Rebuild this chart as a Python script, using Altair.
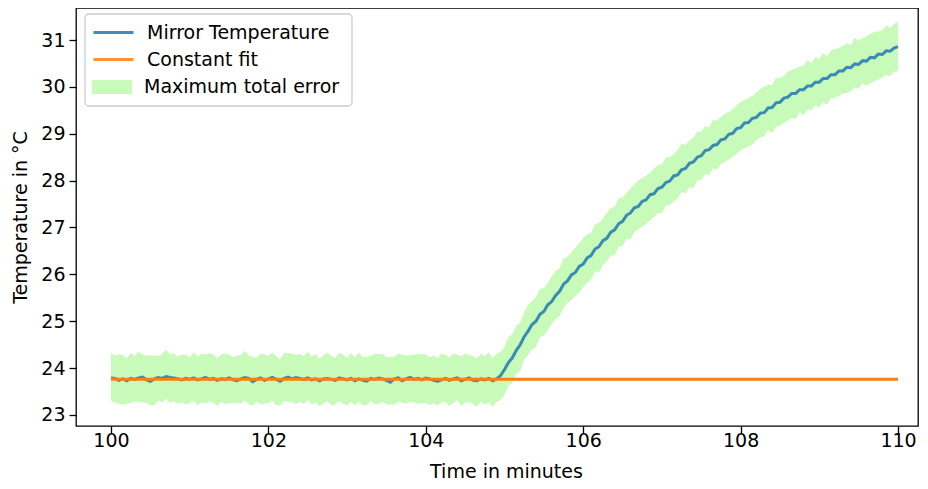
import altair as alt
import pandas as pd

# sample times (minutes), 0.05 min spacing
time = [round(100 + 0.05 * i, 2) for i in range(201)]

# mirror temperature, flat part 100.00 .. 104.90
temp_flat = [23.79, 23.78, 23.74, 23.77, 23.73, 23.78, 23.76, 23.79, 23.81, 23.75,
             23.72, 23.77, 23.80, 23.78, 23.82, 23.80, 23.79, 23.77, 23.75, 23.78,
             23.76, 23.79, 23.75, 23.77, 23.80, 23.76, 23.78, 23.74, 23.77, 23.76,
             23.79, 23.75, 23.73, 23.77, 23.80, 23.78, 23.71, 23.76, 23.79, 23.74,
             23.77, 23.80, 23.76, 23.72, 23.78, 23.81, 23.77, 23.80, 23.78, 23.76,
             23.79, 23.75, 23.77, 23.73, 23.77, 23.78, 23.76, 23.74, 23.79, 23.77,
             23.75, 23.78, 23.73, 23.77, 23.74, 23.72, 23.78, 23.76, 23.79, 23.77,
             23.74, 23.70, 23.77, 23.79, 23.73, 23.77, 23.80, 23.76, 23.78, 23.75,
             23.79, 23.77, 23.74, 23.72, 23.75, 23.78, 23.74, 23.77, 23.79, 23.73,
             23.76, 23.79, 23.74, 23.73, 23.77, 23.75, 23.78, 23.73, 23.77]

# mirror temperature, heating part 104.95 .. 110.00
temp_rise = [23.84, 23.97, 24.12, 24.22, 24.38, 24.50, 24.67, 24.79, 24.93, 25.00,
             25.15, 25.21, 25.35, 25.42, 25.55, 25.64, 25.79, 25.86, 25.99, 26.04,
             26.17, 26.22, 26.35, 26.40, 26.54, 26.59, 26.72, 26.77, 26.90, 26.95,
             27.08, 27.13, 27.26, 27.31, 27.42, 27.45, 27.56, 27.59, 27.70, 27.72,
             27.83, 27.86, 27.96, 27.99, 28.10, 28.12, 28.23, 28.26, 28.37, 28.40,
             28.50, 28.53, 28.64, 28.66, 28.75, 28.77, 28.87, 28.89, 28.99, 29.01,
             29.11, 29.13, 29.23, 29.24, 29.33, 29.35, 29.44, 29.45, 29.55, 29.56,
             29.66, 29.67, 29.76, 29.78, 29.86, 29.86, 29.94, 29.94, 30.02, 30.02,
             30.10, 30.10, 30.18, 30.18, 30.26, 30.26, 30.34, 30.34, 30.42, 30.41,
             30.49, 30.48, 30.56, 30.55, 30.63, 30.62, 30.70, 30.69, 30.77, 30.76,
             30.83, 30.86]

temp = temp_flat + temp_rise

# maximum total error, upper and lower half widths (degC)
err_up = [0.53, 0.49, 0.55, 0.51, 0.47, 0.54, 0.50, 0.56, 0.48, 0.52,
          0.55, 0.50, 0.46, 0.53, 0.57, 0.49, 0.52, 0.48, 0.54, 0.51,
          0.47, 0.55, 0.50, 0.53, 0.49, 0.56, 0.51, 0.47, 0.52, 0.55,
          0.50, 0.48, 0.54, 0.51, 0.57, 0.49, 0.53, 0.46, 0.52, 0.55,
          0.49, 0.53, 0.50, 0.47, 0.55, 0.51, 0.54, 0.48, 0.52, 0.50,
          0.56, 0.49, 0.53, 0.47, 0.51, 0.55, 0.50, 0.48, 0.54, 0.52,
          0.47, 0.53, 0.50, 0.56, 0.49, 0.52, 0.48, 0.55, 0.51, 0.53,
          0.49, 0.54, 0.47, 0.52, 0.56, 0.50, 0.48, 0.53, 0.51, 0.55,
          0.50, 0.46, 0.53, 0.49, 0.55, 0.51, 0.48, 0.54, 0.50, 0.52,
          0.55, 0.49, 0.52, 0.47, 0.54, 0.50, 0.56, 0.48, 0.53, 0.51,
          0.48, 0.55, 0.50, 0.53, 0.47, 0.52, 0.56, 0.49, 0.51, 0.54,
          0.50, 0.47, 0.54, 0.52, 0.49, 0.55, 0.51, 0.48, 0.53, 0.50,
          0.56, 0.50, 0.48, 0.53, 0.51, 0.47, 0.54, 0.52, 0.49, 0.55,
          0.51, 0.48, 0.53, 0.50, 0.56, 0.49, 0.52, 0.47, 0.54, 0.51,
          0.49, 0.54, 0.51, 0.47, 0.53, 0.56, 0.50, 0.48, 0.52, 0.55,
          0.50, 0.53, 0.48, 0.55, 0.51, 0.49, 0.54, 0.47, 0.52, 0.50,
          0.55, 0.49, 0.52, 0.48, 0.53, 0.51, 0.56, 0.50, 0.47, 0.54,
          0.52, 0.48, 0.55, 0.50, 0.53, 0.49, 0.51, 0.56, 0.48, 0.53,
          0.50, 0.54, 0.47, 0.52, 0.55, 0.49, 0.53, 0.51, 0.48, 0.56,
          0.51, 0.49, 0.53, 0.50, 0.55, 0.48, 0.52, 0.54, 0.49, 0.51,
          0.53]
err_low = [0.48, 0.52, 0.50, 0.55, 0.49, 0.53, 0.47, 0.51, 0.54, 0.50,
           0.52, 0.56, 0.49, 0.51, 0.47, 0.54, 0.50, 0.53, 0.48, 0.55,
           0.51, 0.48, 0.54, 0.50, 0.56, 0.47, 0.52, 0.55, 0.49, 0.53,
           0.54, 0.50, 0.47, 0.53, 0.49, 0.55, 0.51, 0.48, 0.56, 0.50,
           0.52, 0.49, 0.55, 0.51, 0.48, 0.53, 0.50, 0.57, 0.49, 0.52,
           0.47, 0.53, 0.50, 0.54, 0.52, 0.48, 0.55, 0.51, 0.49, 0.53,
           0.55, 0.50, 0.52, 0.48, 0.54, 0.51, 0.47, 0.53, 0.56, 0.49,
           0.51, 0.48, 0.55, 0.50, 0.47, 0.53, 0.52, 0.49, 0.54, 0.50,
           0.53, 0.56, 0.49, 0.52, 0.48, 0.50, 0.55, 0.51, 0.47, 0.54,
           0.49, 0.52, 0.50, 0.55, 0.48, 0.53, 0.51, 0.56, 0.49, 0.52,
           0.54, 0.49, 0.53, 0.50, 0.56, 0.48, 0.51, 0.53, 0.55, 0.49,
           0.52, 0.55, 0.48, 0.51, 0.53, 0.50, 0.47, 0.54, 0.50, 0.56,
           0.49, 0.53, 0.51, 0.47, 0.55, 0.52, 0.49, 0.50, 0.54, 0.48,
           0.53, 0.50, 0.56, 0.52, 0.48, 0.54, 0.51, 0.55, 0.49, 0.52,
           0.55, 0.48, 0.52, 0.54, 0.50, 0.47, 0.53, 0.51, 0.56, 0.49,
           0.52, 0.50, 0.55, 0.48, 0.53, 0.51, 0.49, 0.54, 0.50, 0.53,
           0.48, 0.54, 0.51, 0.56, 0.49, 0.52, 0.50, 0.47, 0.55, 0.51,
           0.50, 0.53, 0.49, 0.52, 0.55, 0.48, 0.54, 0.50, 0.52, 0.49,
           0.54, 0.51, 0.56, 0.49, 0.50, 0.53, 0.48, 0.55, 0.51, 0.50,
           0.52, 0.49, 0.53, 0.55, 0.50, 0.54, 0.49, 0.51, 0.53, 0.50,
           0.52]

fit_time = [100.0, 110.0]
fit_value = [23.76, 23.76]

series_names = ["Mirror Temperature", "Constant fit"]
series_colors = ["#1f77b4", "#ff7f0e"]
band_name = "Maximum total error"
band_color = "#c8fbb9"

x_ticks = [100, 102, 104, 106, 108, 110]
y_ticks = [23, 24, 25, 26, 27, 28, 29, 30, 31]

df = pd.DataFrame({
    "time": time,
    "temp": temp,
    "upper": [t + e for t, e in zip(temp, err_up)],
    "lower": [t - e for t, e in zip(temp, err_low)],
})
df["series"] = series_names[0]
df["band"] = band_name

fit_df = pd.DataFrame({"time": fit_time, "temp": fit_value})
fit_df["series"] = series_names[1]

FONT = "DejaVu Sans"

xscale = alt.Scale(domain=[99.5553, 110.2541], nice=False, zero=False)
yscale = alt.Scale(domain=[22.765, 31.683], nice=False, zero=False)

x_enc = alt.X("time:Q", scale=xscale,
              axis=alt.Axis(values=x_ticks, format="d", title="Time in minutes",
                            titlePadding=12, labelPadding=-2, titleX=430))
y_axis = alt.Axis(values=y_ticks, format="d", title="Temperature in °C",
                  titlePadding=10)

color_scale = alt.Scale(domain=series_names, range=series_colors)
line_legend = alt.Legend(
    orient="none", legendX=26, legendY=13, title=None, padding=0,
    symbolType="M-2,0L2,0", symbolSize=400, symbolStrokeWidth=3,
    labelFont=FONT, labelFontSize=19, labelColor="black", labelOffset=22,
    labelLimit=0, rowPadding=5, symbolOpacity=0.85,
)
band_legend = alt.Legend(
    orient="none", legendX=26, legendY=69, title=None, padding=0,
    symbolType="M-2,-0.7L2,-0.7L2,0.7L-2,0.7Z", symbolSize=400,
    symbolStrokeWidth=0, symbolOpacity=1,
    labelFont=FONT, labelFontSize=19, labelColor="black", labelOffset=22,
    labelLimit=0,
)

band = alt.Chart(df).mark_area(opacity=1, interpolate="linear").encode(
    x=x_enc,
    y=alt.Y("lower:Q", scale=yscale, axis=y_axis),
    y2="upper:Q",
    fill=alt.Fill("band:N", scale=alt.Scale(domain=[band_name], range=[band_color]),
                  legend=band_legend),
)

line = alt.Chart(df).mark_line(strokeWidth=3, opacity=0.85).encode(
    x=x_enc,
    y=alt.Y("temp:Q", scale=yscale, axis=y_axis),
    color=alt.Color("series:N", scale=color_scale, legend=line_legend),
)

fit = alt.Chart(fit_df).mark_line(strokeWidth=3).encode(
    x=x_enc,
    y=alt.Y("temp:Q", scale=yscale, axis=y_axis),
    color=alt.Color("series:N", scale=color_scale, legend=line_legend),
)

legend_box = alt.Chart(alt.Data(values=[{"k": 1}])).mark_rect(
    fill="white", fillOpacity=0.8, stroke="#cccccc", strokeWidth=1.3, cornerRadius=4
).encode(
    x=alt.value(9), x2=alt.value(276), y=alt.value(6), y2=alt.value(98)
)

chart = alt.layer(band, line, fit, legend_box).properties(
    width=842, height=418,
    padding={"left": 68, "top": 0, "right": 2, "bottom": 55},
    autosize=alt.AutoSizeParams(type="none"),
).configure_view(
    stroke="black", strokeWidth=1.3
).configure_axis(
    domain=False, grid=False, ticks=True, tickColor="black", tickSize=7, tickWidth=1.3,
    labelFont=FONT, labelFontSize=19, labelColor="black", labelPadding=4,
    titleFont=FONT, titleFontSize=19, titleFontWeight="normal", titleColor="black",
)

chart.save("out.html", embed_options={"renderer": "svg", "actions": False})
